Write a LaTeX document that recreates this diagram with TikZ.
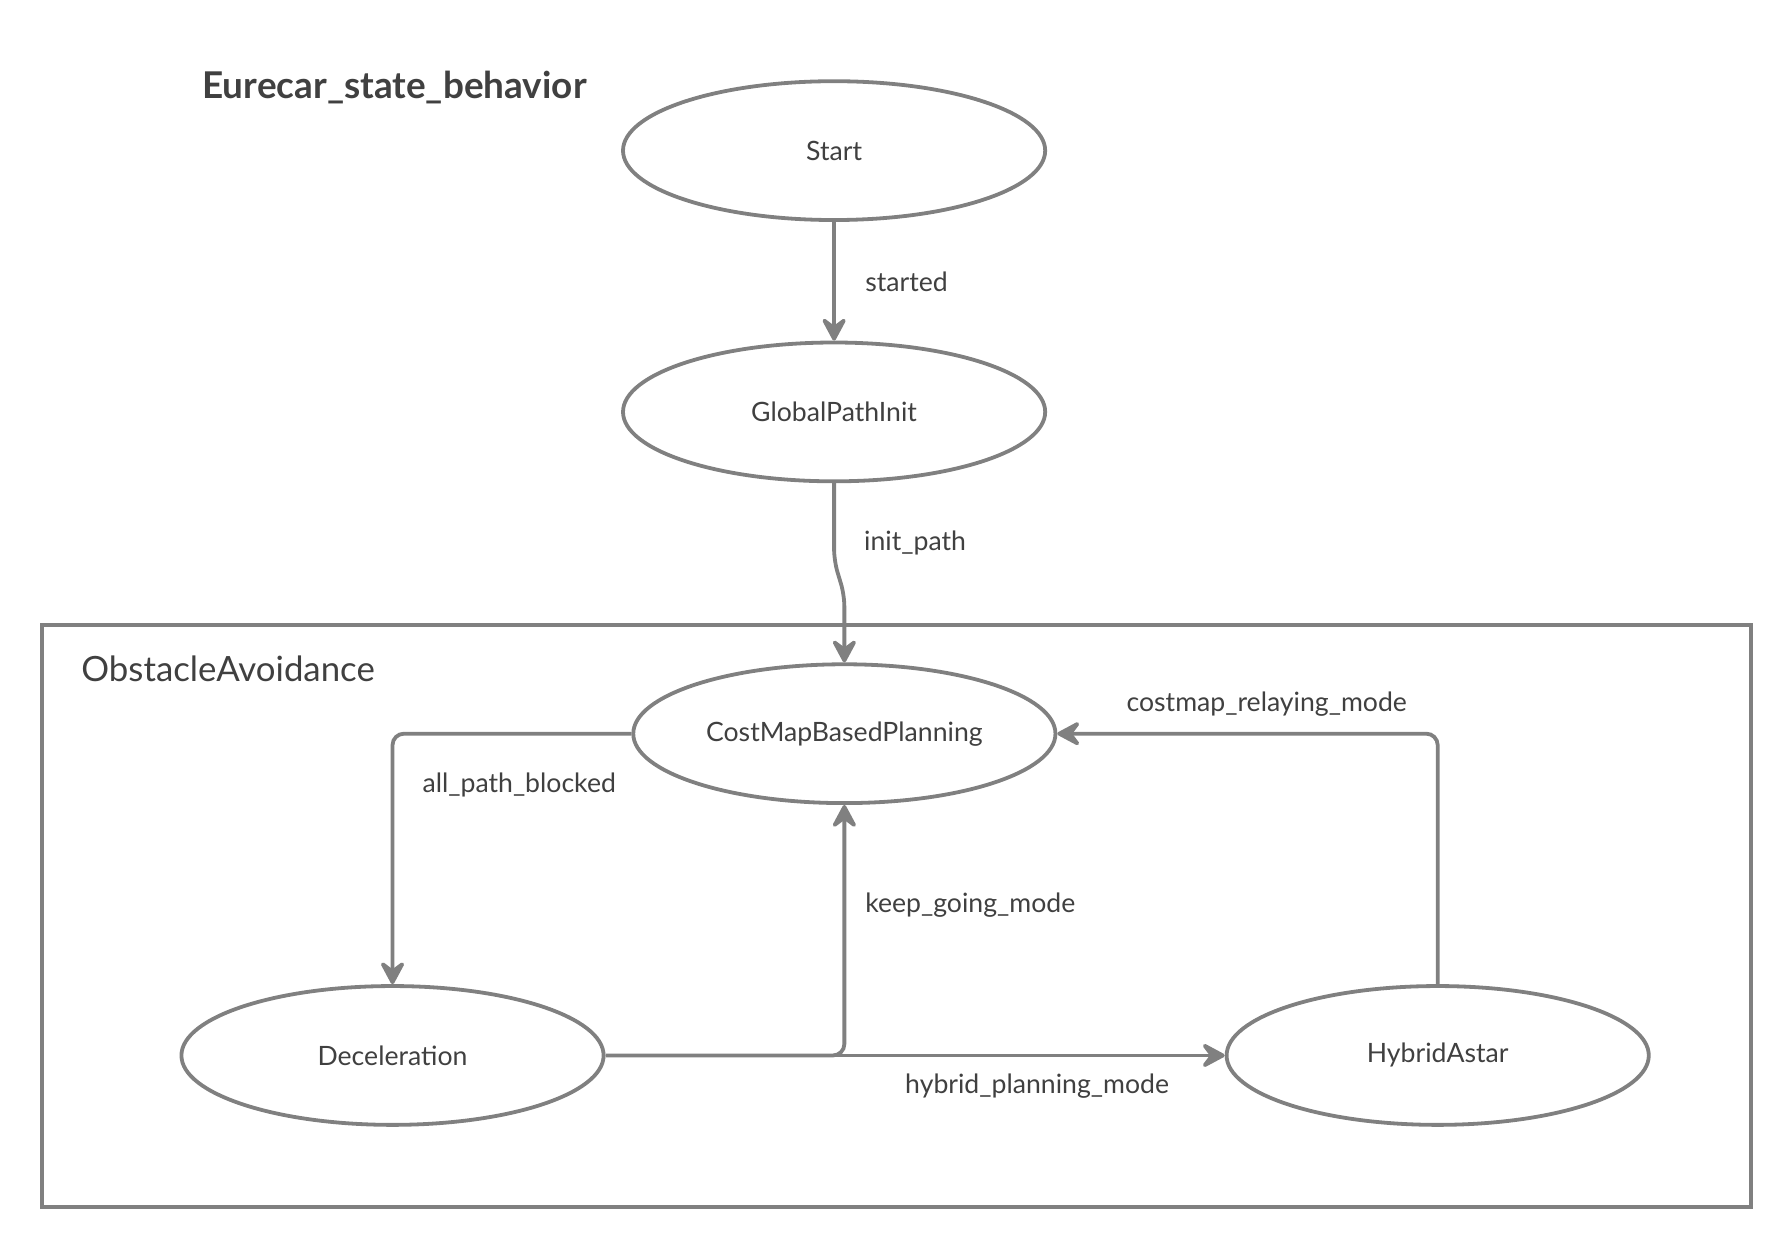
\documentclass[tikz,border=0pt]{standalone}
\usepackage{fontspec}
\setmainfont{Lato}
\usetikzlibrary{arrows.meta,shapes.geometric}
\definecolor{linegray}{HTML}{808080}
\definecolor{textgray}{HTML}{404040}
\begin{document}
\begin{tikzpicture}[x=0.6pt,y=-0.6pt,
state/.style={ellipse,draw=linegray,line width=2pt,minimum width=222pt,minimum height=73pt,inner sep=0pt,text=textgray,font=\fontsize{14}{16}\selectfont},
trans/.style={draw=linegray,line width=2pt,rounded corners=6pt,-{Stealth[length=15pt,width=16pt,inset=6pt,round]}},
lbl/.style={anchor=west,inner sep=0pt,text=textgray,font=\fontsize{14}{16}\selectfont}]
\useasboundingbox (0,0) rectangle (1560,1087);
\node[anchor=west,inner sep=0pt,text=textgray,font=\fontsize{19.4}{22}\selectfont\bfseries] (title) at (177,77) {Eurecar\_state\_behavior};
% the composite state
\node[draw=linegray,line width=2pt,anchor=north west,minimum width=898.8pt,minimum height=306pt,inner sep=0pt] (oa) at (35,546) {};
\node[anchor=west,inner sep=0pt,text=textgray,font=\fontsize{18.3}{21}\selectfont] (oaname) at (71,586) {ObstacleAvoidance};
% states
\node[state] (start) at (731,132) {Start};
\node[state] (gpi) at (731,361) {GlobalPathInit};
\node[state] (cmp) at (740,643) {CostMapBasedPlanning};
\node[state] (dec) at (344,925) {Deceleration};
\node[state] (ha) at (1260,925) {HybridAstar};
% transitions
\draw[trans] (start) -- (gpi);
\draw[trans] (gpi.south) -- ++(0,68) -- ++(9,30) -- (cmp.north);
\draw[trans] (cmp.west) -| (dec.north);
\draw[trans] (dec.east) -| (cmp.south);
\draw[trans] (dec.east) -- (ha.west);
\draw[trans] (ha.north) |- (cmp.east);
% labels
\node[lbl] (started) at (758,247) {started};
\node[lbl] (initpath) at (757,476) {init\_path};
\node[lbl] (blocked) at (370,688) {all\_path\_blocked};
\node[lbl] (keepgoing) at (758,793) {keep\_going\_mode};
\node[lbl] (hybrid) at (793,952) {hybrid\_planning\_mode};
\node[lbl] (relaying) at (987,617) {costmap\_relaying\_mode};
\end{tikzpicture}
\end{document}
